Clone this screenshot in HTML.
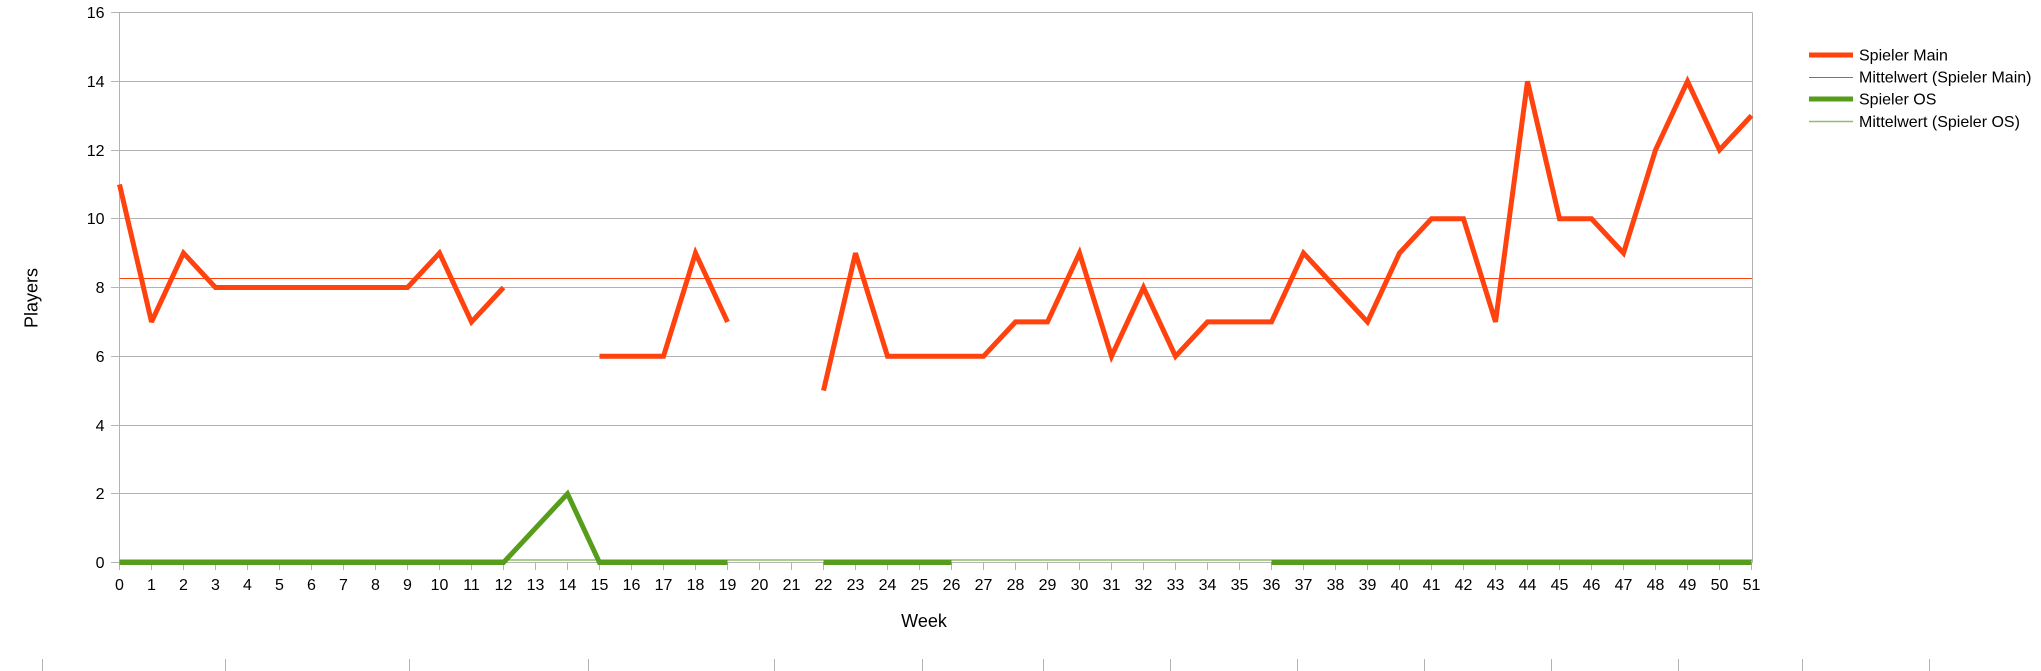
<!DOCTYPE html>
<html><head><meta charset="utf-8"><style>
html,body{margin:0;padding:0;background:#fff;}
svg{display:block;}
text{font-family:"Liberation Sans",Arial,sans-serif;fill:#000;}
</style></head><body>
<svg width="2041" height="671" viewBox="0 0 2041 671" xmlns="http://www.w3.org/2000/svg">
<rect width="2041" height="671" fill="#fff"/>
<g stroke="#b3b3b3" stroke-width="1" fill="none">
<path d="M111 562.5H1752.5M111 493.5H1752.5M111 425.5H1752.5M111 356.5H1752.5M111 287.5H1752.5M111 218.5H1752.5M111 150.5H1752.5M111 81.5H1752.5M111 12.5H1752.5"/>
<path d="M119.5 12.5V570M1752.5 12.5V562.5"/>
<path d="M151.5 562.5V570M183.5 562.5V570M215.5 562.5V570M247.5 562.5V570M279.5 562.5V570M311.5 562.5V570M343.5 562.5V570M375.5 562.5V570M407.5 562.5V570M439.5 562.5V570M471.5 562.5V570M503.5 562.5V570M535.5 562.5V570M567.5 562.5V570M599.5 562.5V570M631.5 562.5V570M663.5 562.5V570M695.5 562.5V570M727.5 562.5V570M759.5 562.5V570M791.5 562.5V570M823.5 562.5V570M855.5 562.5V570M887.5 562.5V570M919.5 562.5V570M951.5 562.5V570M983.5 562.5V570M1015.5 562.5V570M1047.5 562.5V570M1079.5 562.5V570M1111.5 562.5V570M1143.5 562.5V570M1175.5 562.5V570M1207.5 562.5V570M1239.5 562.5V570M1271.5 562.5V570M1303.5 562.5V570M1335.5 562.5V570M1367.5 562.5V570M1399.5 562.5V570M1431.5 562.5V570M1463.5 562.5V570M1495.5 562.5V570M1527.5 562.5V570M1559.5 562.5V570M1591.5 562.5V570M1623.5 562.5V570M1655.5 562.5V570M1687.5 562.5V570M1719.5 562.5V570M1751.5 562.5V570"/>
<path d="M42.5 659V671M225.5 659V671M409.5 659V671M588.5 659V671M774.5 659V671M922.5 659V671M1043.5 659V671M1170.5 659V671M1297.5 659V671M1424.5 659V671M1551.5 659V671M1678.5 659V671M1802.5 659V671M1929.5 659V671"/>
</g>
<!-- mean lines -->
<path d="M119.5 278.5H1752" stroke="#ff420e" stroke-width="1" fill="none"/>
<path d="M119.5 560H1752" stroke="#579d1c" stroke-width="1" fill="none"/>
<!-- Spieler Main -->
<g stroke="#ff420e" stroke-width="5" fill="none" stroke-linejoin="miter" stroke-miterlimit="3" stroke-linecap="butt">
<polyline points="119.5,184.4 151.5,321.9 183.5,253.1 215.5,287.5 407.5,287.5 439.5,253.1 471.5,321.9 503.5,287.5"/>
<polyline points="599.5,356.3 663.5,356.3 695.5,253.1 727.5,321.9"/>
<polyline points="823.5,390.6 855.5,253.1 887.5,356.3 983.5,356.3 1015.5,321.9 1047.5,321.9 1079.5,253.1 1111.5,356.3 1143.5,287.5 1175.5,356.3 1207.5,321.9 1271.5,321.9 1303.5,253.1 1335.5,287.5 1367.5,321.9 1399.5,253.1 1431.5,218.8 1463.5,218.8 1495.5,321.9 1527.5,81.3 1559.5,218.8 1591.5,218.8 1623.5,253.1 1655.5,150 1687.5,81.3 1719.5,150 1751.5,115.6"/>
</g>
<!-- Spieler OS -->
<g stroke="#579d1c" stroke-width="5" fill="none" stroke-linejoin="miter" stroke-miterlimit="3" stroke-linecap="butt">
<polyline points="119.5,562.5 503.5,562.5 567.5,493.75 599.5,562.5 727.5,562.5"/>
<polyline points="823.5,562.5 951.5,562.5"/>
<polyline points="1271.5,562.5 1751.5,562.5"/>
</g>
<!-- Y labels -->
<g font-size="16" text-anchor="end">
<text x="104.5" y="18">16</text>
<text x="104.5" y="87">14</text>
<text x="104.5" y="156">12</text>
<text x="104.5" y="224">10</text>
<text x="104.5" y="293">8</text>
<text x="104.5" y="362">6</text>
<text x="104.5" y="431">4</text>
<text x="104.5" y="499">2</text>
<text x="104.5" y="568">0</text>
</g>
<!-- X labels -->
<g font-size="16" text-anchor="middle">
<text x="119.5" y="590">0</text><text x="151.5" y="590">1</text><text x="183.5" y="590">2</text><text x="215.5" y="590">3</text><text x="247.5" y="590">4</text><text x="279.5" y="590">5</text><text x="311.5" y="590">6</text><text x="343.5" y="590">7</text><text x="375.5" y="590">8</text><text x="407.5" y="590">9</text><text x="439.5" y="590">10</text><text x="471.5" y="590">11</text><text x="503.5" y="590">12</text><text x="535.5" y="590">13</text><text x="567.5" y="590">14</text><text x="599.5" y="590">15</text><text x="631.5" y="590">16</text><text x="663.5" y="590">17</text><text x="695.5" y="590">18</text><text x="727.5" y="590">19</text><text x="759.5" y="590">20</text><text x="791.5" y="590">21</text><text x="823.5" y="590">22</text><text x="855.5" y="590">23</text><text x="887.5" y="590">24</text><text x="919.5" y="590">25</text><text x="951.5" y="590">26</text><text x="983.5" y="590">27</text><text x="1015.5" y="590">28</text><text x="1047.5" y="590">29</text><text x="1079.5" y="590">30</text><text x="1111.5" y="590">31</text><text x="1143.5" y="590">32</text><text x="1175.5" y="590">33</text><text x="1207.5" y="590">34</text><text x="1239.5" y="590">35</text><text x="1271.5" y="590">36</text><text x="1303.5" y="590">37</text><text x="1335.5" y="590">38</text><text x="1367.5" y="590">39</text><text x="1399.5" y="590">40</text><text x="1431.5" y="590">41</text><text x="1463.5" y="590">42</text><text x="1495.5" y="590">43</text><text x="1527.5" y="590">44</text><text x="1559.5" y="590">45</text><text x="1591.5" y="590">46</text><text x="1623.5" y="590">47</text><text x="1655.5" y="590">48</text><text x="1687.5" y="590">49</text><text x="1719.5" y="590">50</text><text x="1751.5" y="590">51</text>
</g>
<!-- axis titles -->
<text x="924" y="627" font-size="18" text-anchor="middle">Week</text>
<text x="0" y="0" font-size="18" text-anchor="middle" transform="translate(37.5,298) rotate(-90)">Players</text>
<!-- legend -->
<path d="M1809 55H1853" stroke="#ff420e" stroke-width="5"/>
<path d="M1809 77.5H1853" stroke="#ff420e" stroke-width="1"/>
<path d="M1809 99H1853" stroke="#579d1c" stroke-width="5"/>
<path d="M1809 121.5H1853" stroke="#8fbf6a" stroke-width="1.5"/>
<g font-size="16">
<text x="1859" y="60.5">Spieler Main</text>
<text x="1859" y="82.5">Mittelwert (Spieler Main)</text>
<text x="1859" y="104.5">Spieler OS</text>
<text x="1859" y="127">Mittelwert (Spieler OS)</text>
</g>
</svg>
</body></html>
